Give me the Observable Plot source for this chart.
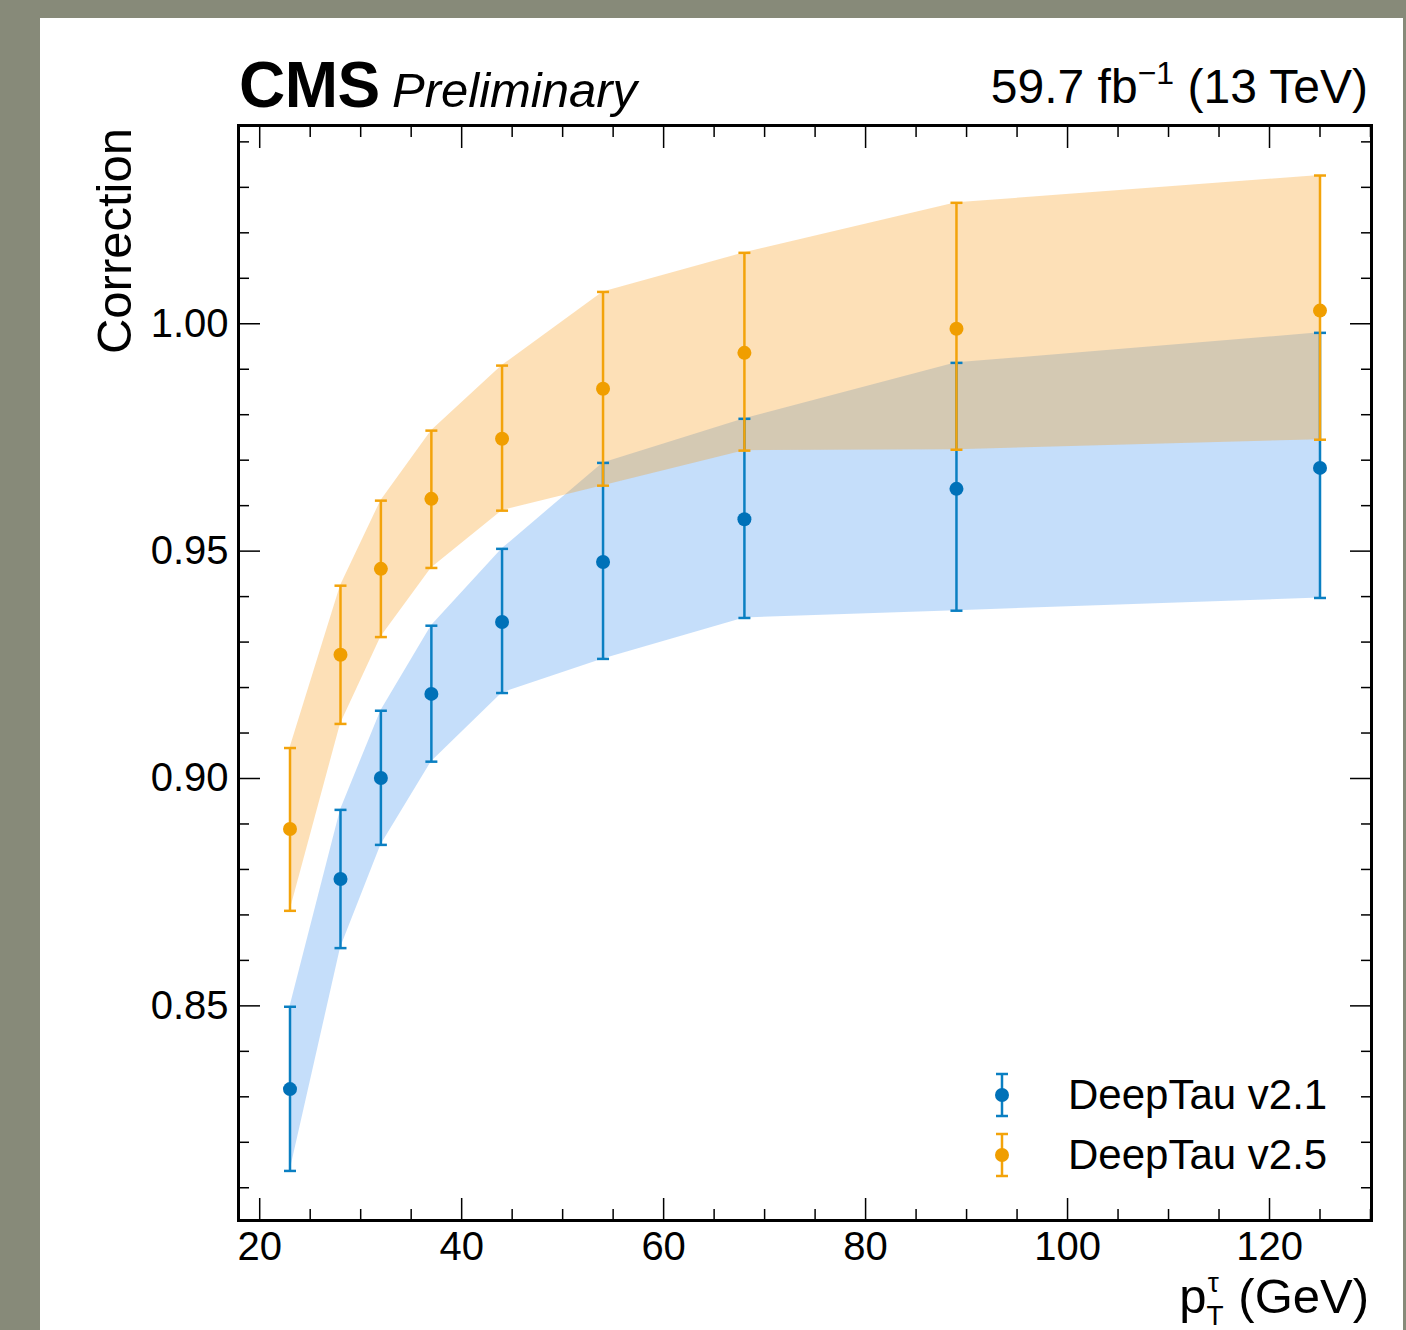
<!DOCTYPE html>
<html>
<head>
<meta charset="utf-8">
<script src="https://cdn.jsdelivr.net/npm/d3@7"></script>
<script src="https://cdn.jsdelivr.net/npm/@observablehq/plot@0.6"></script>
<style>
  html, body { margin: 0; padding: 0; }
  body { width: 1406px; height: 1330px; overflow: hidden; background: #878a79; position: relative;
         font-family: "Liberation Sans", Arial, Helvetica, sans-serif; }
  #panel { position: absolute; left: 40px; top: 18px; width: 1363px; height: 1312px; background: #ffffff; }
  #chart { position: absolute; left: 40px; top: 18px; }
  #overlay { position: absolute; left: 0; top: 0; pointer-events: none; }
  #legend { position: absolute; left: 985px; top: 1065px; }
  .row { display: flex; align-items: center; height: 60px; }
  .row svg { width: 34px; height: 50px; display: block; }
  .row span { margin-left: 49px; font-size: 42px; color: #000; line-height: 1; }
</style>
</head>
<body>
<div id="panel"></div>
<div id="chart"></div>
<svg id="overlay" width="1406" height="1330" xmlns="http://www.w3.org/2000/svg"
     font-family="Liberation Sans, Arial, Helvetica, sans-serif">
  <text x="239" y="107" font-size="64" font-weight="bold" fill="#000" letter-spacing="-0.5">CMS</text>
  <text x="392" y="107" font-size="49" font-style="italic" fill="#000">Preliminary</text>
  <text x="1368" y="103" font-size="48" text-anchor="end" fill="#000">59.7 fb<tspan font-size="32" dy="-19">−1</tspan><tspan dy="19"> (13 TeV)</tspan></text>
  <text transform="translate(131,128) rotate(-90)" font-size="49" text-anchor="end" fill="#000">Correction</text>
  <text x="1369" y="1313" font-size="49" text-anchor="end" fill="#000">p<tspan font-size="28" dy="12">T</tspan><tspan font-size="28" dx="-16" dy="-33">τ</tspan><tspan dx="6" dy="21"> (GeV)</tspan></text>
</svg>
<div id="legend">
  <div class="row">
    <svg viewBox="0 0 34 50"><line x1="17" x2="17" y1="4" y2="46" stroke="#0a7fc2" stroke-width="2.5"/><line x1="11" x2="23" y1="4" y2="4" stroke="#0a7fc2" stroke-width="2.5"/><line x1="11" x2="23" y1="46" y2="46" stroke="#0a7fc2" stroke-width="2.5"/><circle cx="17" cy="25" r="7" fill="#0071b8"/></svg>
    <span>DeepTau v2.1</span>
  </div>
  <div class="row">
    <svg viewBox="0 0 34 50"><line x1="17" x2="17" y1="4" y2="46" stroke="#f3a30a" stroke-width="2.5"/><line x1="11" x2="23" y1="4" y2="4" stroke="#f3a30a" stroke-width="2.5"/><line x1="11" x2="23" y1="46" y2="46" stroke="#f3a30a" stroke-width="2.5"/><circle cx="17" cy="25" r="7" fill="#f09e00"/></svg>
    <span>DeepTau v2.5</span>
  </div>
</div>
<script>
// ---- data ----
const pt = [23, 28, 32, 37, 44, 54, 68, 89, 125];

const v21    = [0.8317, 0.8779, 0.9001, 0.9186, 0.9344, 0.9476, 0.9570, 0.9637, 0.9683];
const v21Lo  = [0.8137, 0.8627, 0.8854, 0.9037, 0.9188, 0.9263, 0.9353, 0.9369, 0.9397];
const v21Hi  = [0.8498, 0.8931, 0.9149, 0.9336, 0.9505, 0.9694, 0.9791, 0.9914, 0.9980];

const v25    = [0.8889, 0.9272, 0.9461, 0.9615, 0.9747, 0.9857, 0.9936, 0.9989, 1.0029];
const v25Lo  = [0.8709, 0.9120, 0.9311, 0.9463, 0.9589, 0.9644, 0.9721, 0.9723, 0.9745];
const v25Hi  = [0.9067, 0.9424, 0.9611, 0.9765, 0.9908, 1.0070, 1.0156, 1.0266, 1.0326];

const xMajor = [20, 40, 60, 80, 100, 120];
const xMinor = [25, 30, 35, 45, 50, 55, 65, 70, 75, 85, 90, 95, 105, 110, 115, 125, 130];
const yMajor = [0.85, 0.90, 0.95, 1.00];
const yMinor = [0.81, 0.82, 0.83, 0.84, 0.86, 0.87, 0.88, 0.89, 0.91, 0.92, 0.93, 0.94,
                0.96, 0.97, 0.98, 0.99, 1.01, 1.02, 1.03, 1.04];

// ---- build tables ----
const d21 = pt.map((x, i) => ({x, y: v21[i], lo: v21Lo[i], hi: v21Hi[i]}));
const d25 = pt.map((x, i) => ({x, y: v25[i], lo: v25Lo[i], hi: v25Hi[i]}));

const blueBar = "#0a7fc2", bluePt = "#0071b8", blueBand = "#3e91ee";
const orBar = "#f3a30a", orPt = "#f09e00", orBand = "#f89812";

const cap = {draw(ctx, size) { const r = Math.sqrt(size / Math.PI); ctx.moveTo(-r, 0); ctx.lineTo(r, 0); }};

function series(d, bar, ptc) {
  return [
    Plot.ruleX(d, {x: "x", y1: "lo", y2: "hi", stroke: bar, strokeWidth: 2.5}),
    Plot.dot(d, {x: "x", y: "lo", symbol: cap, r: 6, fill: "none", stroke: bar, strokeWidth: 2.5}),
    Plot.dot(d, {x: "x", y: "hi", symbol: cap, r: 6, fill: "none", stroke: bar, strokeWidth: 2.5}),
    Plot.dot(d, {x: "x", y: "y", r: 7, fill: ptc, stroke: "none"})
  ];
}

const blank = () => "";

const chart = Plot.plot({
  width: 1363,
  height: 1312,
  marginLeft: 198,
  marginRight: 32,
  marginTop: 107,
  marginBottom: 110,
  style: {background: "transparent", fontFamily: "Liberation Sans, Arial, Helvetica, sans-serif", color: "#000"},
  x: {domain: [17.9, 130.1]},
  y: {domain: [0.8028, 1.0436]},
  marks: [
    Plot.areaY(d21, {x: "x", y1: "lo", y2: "hi", fill: blueBand, fillOpacity: 0.3}),
    Plot.areaY(d25, {x: "x", y1: "lo", y2: "hi", fill: orBand, fillOpacity: 0.3}),
    ...series(d21, blueBar, bluePt),
    ...series(d25, orBar, orPt),
    // inward ticks, all four sides
    Plot.axisX(xMajor, {anchor: "bottom", tickSize: -22, tickFormat: blank, label: null, strokeWidth: 1.5}),
    Plot.axisX(xMinor, {anchor: "bottom", tickSize: -11, tickFormat: blank, label: null, strokeWidth: 1.5}),
    Plot.axisX(xMajor, {anchor: "top", tickSize: -22, tickFormat: blank, label: null, strokeWidth: 1.5}),
    Plot.axisX(xMinor, {anchor: "top", tickSize: -11, tickFormat: blank, label: null, strokeWidth: 1.5}),
    Plot.axisY(yMajor, {anchor: "left", tickSize: -22, tickFormat: blank, label: null, strokeWidth: 1.5}),
    Plot.axisY(yMinor, {anchor: "left", tickSize: -11, tickFormat: blank, label: null, strokeWidth: 1.5}),
    Plot.axisY(yMajor, {anchor: "right", tickSize: -22, tickFormat: blank, label: null, strokeWidth: 1.5}),
    Plot.axisY(yMinor, {anchor: "right", tickSize: -11, tickFormat: blank, label: null, strokeWidth: 1.5}),
    // tick labels
    Plot.axisX(xMajor, {anchor: "bottom", tickSize: 0, tickPadding: 11, fontSize: 40, label: null, tickFormat: d3.format("d")}),
    Plot.axisY(yMajor, {anchor: "left", tickSize: 0, tickPadding: 10, fontSize: 40, label: null, tickFormat: d3.format(".2f")}),
    Plot.frame({stroke: "#000", strokeWidth: 3})
  ]
});
document.getElementById("chart").appendChild(chart);
</script>
</body>
</html>
